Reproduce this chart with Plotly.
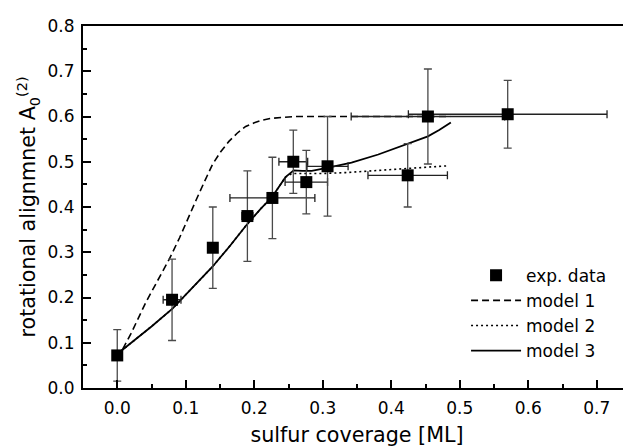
import plotly.graph_objects as go

# experimental data
exp_x = [0.0, 0.080, 0.1395, 0.190, 0.2265, 0.257, 0.276, 0.307, 0.424, 0.4535, 0.570]
exp_y = [0.072, 0.195, 0.310, 0.380, 0.420, 0.500, 0.455, 0.490, 0.470, 0.600, 0.605]
exp_yerr = [0.057, 0.090, 0.090, 0.100, 0.090, 0.070, 0.070, 0.110, 0.070, 0.105, 0.075]
exp_xerr = [0.0, 0.013, 0.0, 0.008, 0.062, 0.021, 0.031, 0.030, 0.058, 0.112, 0.145]

# model 1 (dashed)
m1_x = [0.008, 0.02, 0.042, 0.06, 0.076, 0.091, 0.103, 0.115, 0.127, 0.139, 0.151,
        0.163, 0.175, 0.1875, 0.2, 0.2116, 0.225, 0.236, 0.25, 0.26, 0.28, 0.32, 0.4, 0.486]
m1_y = [0.086, 0.12, 0.19, 0.24, 0.285, 0.332, 0.375, 0.415, 0.455, 0.494, 0.522,
        0.545, 0.563, 0.578, 0.586, 0.592, 0.596, 0.598, 0.599, 0.6, 0.6, 0.6, 0.6, 0.6]

# model 2 (dotted)
m2_x = [0.0, 0.02, 0.05, 0.081, 0.11, 0.139, 0.165, 0.1875, 0.21, 0.226, 0.2456,
        0.255, 0.27, 0.3, 0.333, 0.366, 0.4245, 0.4825]
m2_y = [0.075, 0.099, 0.136, 0.176, 0.222, 0.268, 0.315, 0.358, 0.397, 0.422, 0.466,
        0.474, 0.474, 0.474, 0.476, 0.479, 0.485, 0.491]

# model 3 (solid)
m3_x = [0.0, 0.02, 0.05, 0.081, 0.11, 0.139, 0.165, 0.1875, 0.21, 0.226, 0.2456,
        0.2576, 0.27, 0.284, 0.308, 0.342, 0.381, 0.4245, 0.4535, 0.47, 0.487]
m3_y = [0.075, 0.099, 0.136, 0.176, 0.222, 0.268, 0.315, 0.358, 0.397, 0.422, 0.466,
        0.481, 0.480, 0.480, 0.487, 0.498, 0.516, 0.540, 0.556, 0.570, 0.587]

x_ticks = [0.0, 0.1, 0.2, 0.3, 0.4, 0.5, 0.6, 0.7]
y_ticks = [0.0, 0.1, 0.2, 0.3, 0.4, 0.5, 0.6, 0.7, 0.8]

FONT = "DejaVu Sans"

fig = go.Figure()
fig.add_trace(go.Scatter(x=m1_x, y=m1_y, mode="lines", name="model 1",
                         line=dict(color="black", width=1.6, dash="7px,4px"),
                         legendrank=2, legendgroup="b"))
fig.add_trace(go.Scatter(x=m2_x, y=m2_y, mode="lines", name="model 2",
                         line=dict(color="black", width=1.6, dash="2px,3px"),
                         legendrank=3, legendgroup="c"))
fig.add_trace(go.Scatter(x=m3_x, y=m3_y, mode="lines", name="model 3",
                         line=dict(color="black", width=1.8),
                         legendrank=4, legendgroup="d"))
fig.add_trace(go.Scatter(x=exp_x, y=exp_y, mode="markers", name="exp. data",
                         marker=dict(symbol="square", size=12, color="black"),
                         error_y=dict(type="data", array=exp_yerr, color="#4a4a4a",
                                      thickness=1.3, width=4),
                         error_x=dict(type="data", array=exp_xerr, color="#222222",
                                      thickness=1.3, width=4),
                         legendrank=1, legendgroup="a"))

fig.update_layout(
    width=631, height=447,
    margin=dict(l=75, r=8, t=11, b=67),
    paper_bgcolor="white", plot_bgcolor="white",
    font=dict(family=FONT, size=17, color="black"),
    showlegend=True,
    legend=dict(x=0.699, y=0.36, xanchor="left", yanchor="top",
                bgcolor="rgba(0,0,0,0)", font=dict(size=17),
                itemwidth=50,
                tracegroupgap=0, traceorder="grouped"),
    xaxis=dict(range=[-0.05, 0.75], tickvals=x_ticks,
               ticktext=[f"{v:.1f}" for v in x_ticks],
               ticks="inside", ticklen=8, tickwidth=1.5, tickcolor="black",
               minor=dict(dtick=0.05, tick0=0, ticks="inside", ticklen=4,
                          tickwidth=1.5, tickcolor="black"),
               showline=True, linecolor="black", linewidth=2, mirror=True,
               showgrid=False, zeroline=False,
               tickfont=dict(size=17), ticklabelstandoff=4,
               title=dict(text="sulfur coverage [ML]", font=dict(size=20.7),
                          standoff=10)),
    yaxis=dict(range=[0, 0.8], tickvals=y_ticks,
               ticktext=[f"{v:.1f}" for v in y_ticks],
               ticks="inside", ticklen=8, tickwidth=1.5, tickcolor="black",
               minor=dict(dtick=0.05, tick0=0, ticks="inside", ticklen=4,
                          tickwidth=1.5, tickcolor="black"),
               showline=True, linecolor="black", linewidth=2, mirror=False,
               showgrid=False, zeroline=False,
               tickfont=dict(size=17), ticklabelstandoff=3,
               title=dict(text="rotational alignmnet A<sub>0</sub><sup>(2)</sup>",
                          font=dict(size=20.7), standoff=6)),
)

fig.write_html("out.html")
